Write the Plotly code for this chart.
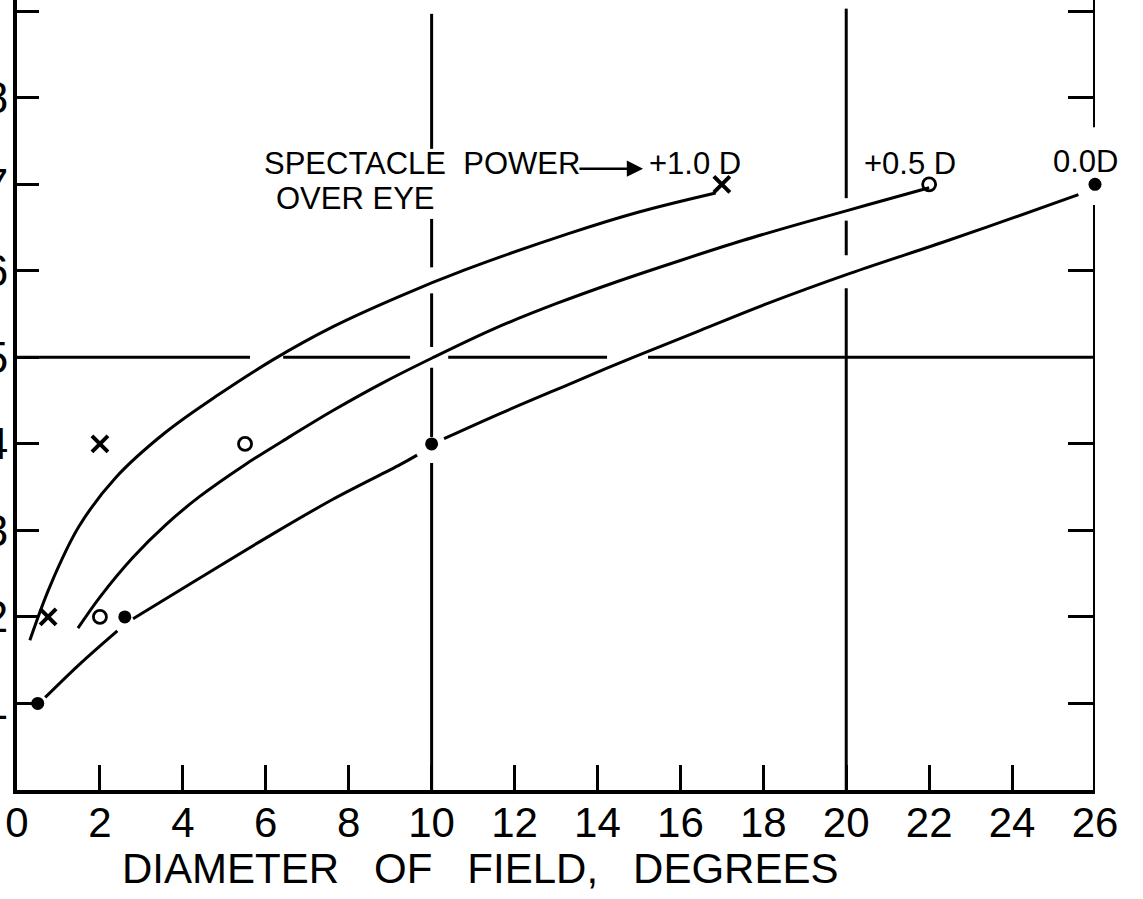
import plotly.graph_objects as go

# ---------------- data ----------------
X_TICKS = [0, 2, 4, 6, 8, 10, 12, 14, 16, 18, 20, 22, 24, 26]
Y_TICKS = [1, 2, 3, 4, 5, 6, 7, 8, 9]
RIGHT_TICKS = [1, 2, 3, 4, 6, 8, 9]

# measured points
P10_X = [0.75, 2.0, 17.0]
P10_Y = [2.0, 4.0, 7.0]
P05_X = [2.0, 5.5, 22.0]
P05_Y = [2.0, 4.0, 7.0]
P00_X = [0.5, 2.6, 10.0, 26.0]
P00_Y = [1.0, 2.0, 4.0, 7.0]

# hand-drawn curves (traced)
P10_CX = [0.31, 0.8, 1.5, 2.4, 3.6, 4.8, 6.2, 7.6, 9.2, 10.8, 13.3, 15.0, 16.85]
P10_CY = [1.73, 2.36, 3.05, 3.62, 4.14, 4.55, 4.98, 5.35, 5.70, 6.01, 6.43, 6.68, 6.90]
P05_CX = [1.47, 2.0, 2.8, 3.6, 4.4, 5.5, 6.6, 7.6, 8.8, 10.0, 11.5, 13.0, 14.5, 16.0, 17.5, 19.0, 20.5, 22.0]
P05_CY = [1.87, 2.23, 2.69, 3.07, 3.39, 3.76, 4.09, 4.38, 4.70, 4.99, 5.33, 5.62, 5.88, 6.12, 6.35, 6.56, 6.76, 6.96]
P00_CX = [0.68, 1.5, 2.42, None,
          2.8, 4.41, 6.03, 7.62, 9.24, 9.65, None,
          10.3, 11.65, 13.27, 14.86, 16.47, 18.09, 20.09, 22.33, 23.95, 25.6]
P00_CY = [1.07, 1.45, 1.84, None,
          1.98, 2.45, 2.92, 3.36, 3.76, 3.87, None,
          4.06, 4.35, 4.68, 5.0, 5.31, 5.62, 5.97, 6.33, 6.6, 6.88]

# reference lines (drawn with breaks where they cross curves / text)
H5_LEVEL = 5
H5_SEGMENTS = [(0, 5.62), (6.42, 9.48), (10.4, 14.23), (15.22, 26)]
V10_LEVEL = 10
V10_SEGMENTS = [(0, 3.78), (4.08, 4.88), (5.12, 5.74), (6.04, 6.6), (7.41, 8.97)]
V20_LEVEL = 20
V20_SEGMENTS = [(0, 5.80), (6.18, 6.58), (6.84, 9.03)]
RIGHT_LEVEL = 26
RIGHT_SEGMENTS = [(0, 6.76), (7.66, 9.13)]

X_RANGE = [0, 26]
Y_RANGE = [0, 9.13]

FONT = "Liberation Sans, Arial, sans-serif"


def seg_xy_h(level, segs):
    xs, ys = [], []
    for a, b in segs:
        xs += [a, b, None]
        ys += [level, level, None]
    return xs, ys


def seg_xy_v(level, segs):
    xs, ys = [], []
    for a, b in segs:
        xs += [level, level, None]
        ys += [a, b, None]
    return xs, ys


fig = go.Figure()

line_style = dict(color="black", width=3)

for (lvl, segs, fn) in [(H5_LEVEL, H5_SEGMENTS, seg_xy_h),
                        (V10_LEVEL, V10_SEGMENTS, seg_xy_v),
                        (V20_LEVEL, V20_SEGMENTS, seg_xy_v)]:
    xs, ys = fn(lvl, segs)
    fig.add_trace(go.Scatter(x=xs, y=ys, mode="lines", line=line_style,
                             hoverinfo="skip", showlegend=False))

# right border on secondary axis
rx, ry = seg_xy_v(RIGHT_LEVEL, RIGHT_SEGMENTS)
fig.add_trace(go.Scatter(x=rx, y=ry, mode="lines", yaxis="y2",
                         line=dict(color="black", width=4),
                         hoverinfo="skip", showlegend=False, cliponaxis=False))

# curves
for cx, cy in [(P10_CX, P10_CY), (P05_CX, P05_CY), (P00_CX, P00_CY)]:
    fig.add_trace(go.Scatter(x=cx, y=cy, mode="lines",
                             line=dict(color="black", width=3, shape="spline", smoothing=1.0),
                             connectgaps=False, hoverinfo="skip", showlegend=False))

# markers
fig.add_trace(go.Scatter(x=P10_X, y=P10_Y, mode="markers", name="+1.0 D",
                         marker=dict(symbol="x-thin", size=16, color="black",
                                     line=dict(color="black", width=4)),
                         showlegend=False, cliponaxis=False))
fig.add_trace(go.Scatter(x=P05_X, y=P05_Y, mode="markers", name="+0.5 D",
                         marker=dict(symbol="circle-open", size=13, color="black",
                                     line=dict(color="black", width=2.8)),
                         showlegend=False, cliponaxis=False))
fig.add_trace(go.Scatter(x=P00_X, y=P00_Y, mode="markers", name="0.0 D",
                         marker=dict(symbol="circle", size=13, color="black"),
                         showlegend=False, cliponaxis=False))

ann_font = dict(family=FONT, size=31, color="black")
annotations = [
    dict(x=5.91, y=7.24, text="SPECTACLE\u00a0\u00a0POWER", xanchor="left", yanchor="middle",
         showarrow=False, font=ann_font),
    dict(x=6.2, y=6.84, text="OVER\u00a0EYE", xanchor="left", yanchor="middle",
         showarrow=False, font=ann_font),
    dict(x=15.2, y=7.24, text="+1.0\u00a0D", xanchor="left", yanchor="middle",
         showarrow=False, font=ann_font),
    dict(x=20.38, y=7.24, text="+0.5\u00a0D", xanchor="left", yanchor="middle",
         showarrow=False, font=ann_font),
    dict(x=24.94, y=7.26, text="0.0D", xanchor="left", yanchor="middle",
         showarrow=False, font=ann_font),
    dict(x=15.1, y=7.18, ax=13.53, ay=7.18, axref="x", ayref="y", text="",
         showarrow=True, arrowhead=2, arrowsize=1.3, arrowwidth=2.5, arrowcolor="black",
         standoff=0, startstandoff=0),
    dict(x=0.4295, y=-0.0995, xref="paper", yref="paper",
         text="DIAMETER\u00a0\u00a0\u00a0OF\u00a0\u00a0\u00a0FIELD,\u00a0\u00a0\u00a0DEGREES",
         xanchor="center", yanchor="middle", showarrow=False,
         font=dict(family=FONT, size=42, color="black")),
]

fig.update_layout(
    width=1143, height=899,
    margin=dict(l=17, r=48, t=0, b=109, pad=0),
    paper_bgcolor="white", plot_bgcolor="white",
    template="none",
    showlegend=False,
    annotations=annotations,
    xaxis=dict(range=X_RANGE, tickvals=X_TICKS, ticktext=[str(v) for v in X_TICKS],
               ticks="inside", ticklen=25, tickwidth=3, tickcolor="black",
               showline=True, linecolor="black", linewidth=4,
               showgrid=False, zeroline=False, automargin=False,
               ticklabelstandoff=-7,
               tickfont=dict(family=FONT, size=42, color="black")),
    yaxis=dict(range=Y_RANGE, tickvals=Y_TICKS, ticktext=[str(v) for v in Y_TICKS],
               ticks="inside", ticklen=22, tickwidth=3, tickcolor="black",
               showline=True, linecolor="black", linewidth=4,
               showgrid=False, zeroline=False, automargin=False,
               ticklabelstandoff=-4,
               tickfont=dict(family=FONT, size=44, color="black")),
    yaxis2=dict(range=Y_RANGE, overlaying="y", side="right", anchor="x",
                tickvals=RIGHT_TICKS, ticks="inside", ticklen=27, tickwidth=3,
                tickcolor="black", showticklabels=False, showline=False,
                showgrid=False, zeroline=False, automargin=False),
)

fig.write_html("out.html",
               config={"displayModeBar": False, "staticPlot": True},
               post_script="document.body.style.margin='0';document.body.style.overflow='hidden';")
